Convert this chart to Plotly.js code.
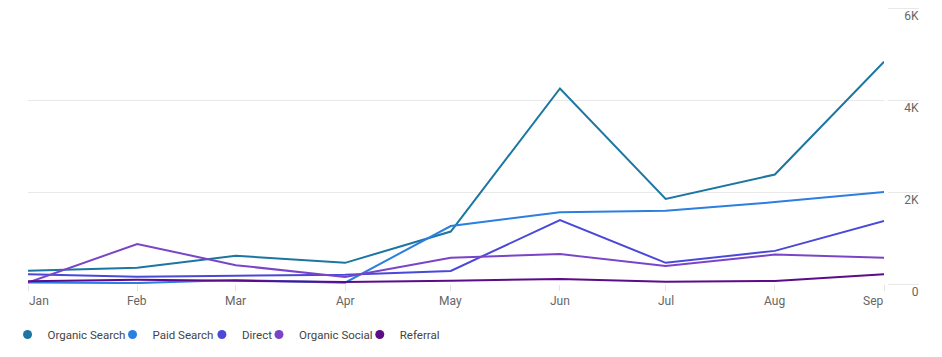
<!DOCTYPE html>
<html><head><meta charset="utf-8">
<script src="https://cdn.plot.ly/plotly-3.0.1.min.js"></script>
<style>html,body{margin:0;padding:0;background:#fff;} #chart{width:942px;height:357px;}</style>
</head><body><div id="chart"></div>
<script>
const months = ['2023-01-01','2023-02-01','2023-03-01','2023-04-01','2023-05-01','2023-06-01','2023-07-01','2023-08-01','2023-09-01'];
const monthLabels = ['Jan','Feb','Mar','Apr','May','Jun','Jul','Aug','Sep'];
const organicSearch = [290, 355, 615, 460, 1140, 4250, 1850, 2380, 4830];
const paidSearch    = [30, 20, 85, 30, 1260, 1560, 1590, 1780, 2000];
const direct        = [210, 160, 180, 200, 285, 1390, 460, 720, 1370];
const organicSocial = [30, 870, 410, 150, 570, 650, 390, 640, 570];
const referral      = [60, 90, 70, 45, 70, 110, 50, 65, 210];
const seriesNames = ['Organic Search','Paid Search','Direct','Organic Social','Referral'];
const seriesValues = [organicSearch, paidSearch, direct, organicSocial, referral];
const yTickVals = [0, 2000, 4000, 6000];
const yTickText = ['0','2K','4K','6K'];

const colors = ['#1b76a2','#2a7fe0','#4a48d9','#7a44c8','#5c0b8a'];
// legend anchor points (px): midpoint between symbol and label in the reference
const legendMidPx = [36.5, 141.7, 231.3, 288.5, 389.5];

const W = 942, H = 357;
const margin = {l: 26, r: 23, t: 8, b: 73};
const paperW = W - margin.l - margin.r;
const plotH = H - margin.t - margin.b;
const plotRightPx = 884;
const xDomainEnd = (plotRightPx - margin.l) / paperW;
const font = 'Roboto, "Open Sans", sans-serif';

const traces = [];
seriesNames.forEach((name, i) => {
  traces.push({
    type: 'scatter', mode: 'lines', name: name,
    x: months, y: seriesValues[i],
    line: {color: colors[i], width: 2},
    showlegend: false, legendgroup: name, hoverinfo: 'x+y+name'
  });
});
seriesNames.forEach((name, i) => {
  traces.push({
    type: 'scatter', mode: 'markers', name: name,
    x: [null], y: [null],
    marker: {color: colors[i], size: 9},
    showlegend: true, legendgroup: name,
    legend: i === 0 ? 'legend' : 'legend' + (i + 1)
  });
});

const legendY = -(334.5 - (margin.t + plotH)) / plotH;
const layout = {
  width: W, height: H, margin: margin,
  paper_bgcolor: '#fff', plot_bgcolor: '#fff',
  font: {family: font, size: 12, color: '#666'},
  xaxis: {
    type: 'date', range: [months[0], months[months.length - 1]],
    domain: [0, xDomainEnd], anchor: 'y',
    tickvals: months, showticklabels: false,
    ticks: 'outside', ticklen: 6, tickcolor: '#e4e4e4', tickwidth: 1,
    showgrid: false, zeroline: false, showline: false, fixedrange: true
  },
  yaxis: {
    range: [0, 6000], anchor: 'free', position: 1, side: 'left',
    tickvals: yTickVals, ticktext: yTickText,
    ticks: 'outside', ticklen: 31, tickcolor: '#e8e8e8', tickwidth: 1,
    ticklabelstandoff: -33, ticklabelshift: 8,
    tickfont: {family: font, size: 12, color: '#666'},
    showgrid: true, gridcolor: '#e8e8e8', gridwidth: 1,
    zeroline: false, showline: false, automargin: false, fixedrange: true
  },
  annotations: monthLabels.map((lab, i) => ({
    x: months[i], xref: 'x', y: 0, yref: 'paper',
    yanchor: 'top', yshift: -8,
    xanchor: i === 0 ? 'left' : (i === monthLabels.length - 1 ? 'right' : 'center'),
    xshift: i === 0 ? -1 : (i === monthLabels.length - 1 ? 1 : 0),
    text: lab, showarrow: false,
    font: {family: font, size: 12, color: '#666'}
  })),
  showlegend: true
};
seriesNames.forEach((name, i) => {
  const key = i === 0 ? 'legend' : 'legend' + (i + 1);
  layout[key] = {
    orientation: 'h', x: (legendMidPx[i] - 31 - margin.l) / paperW, xanchor: 'left',
    y: legendY, yanchor: 'middle', bgcolor: 'rgba(0,0,0,0)', borderwidth: 0,
    font: {family: font, size: 11.5, color: '#444'}, itemclick: false, itemdoubleclick: false
  };
});

Plotly.newPlot('chart', traces, layout, {displayModeBar: false, staticPlot: false});
</script>
</body></html>
